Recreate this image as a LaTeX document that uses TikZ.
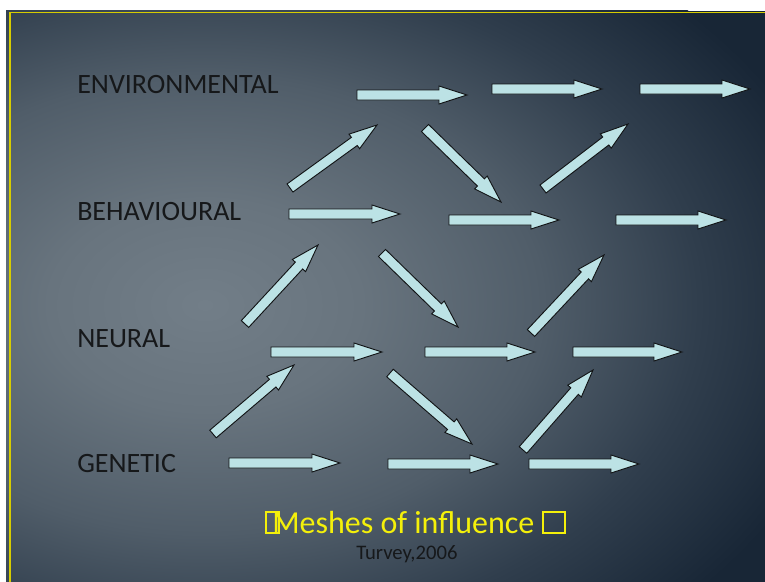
\documentclass[tikz,border=0pt]{standalone}
\usepackage{fontspec}
\setmainfont{Carlito}
\usetikzlibrary{calc}

\definecolor{bgIn}{RGB}{114,126,136}
\definecolor{bgInB}{RGB}{104,116,126}
\definecolor{bgMid}{RGB}{80,93,105}
\definecolor{bgDark}{RGB}{48,62,77}
\definecolor{bgOut}{RGB}{24,38,54}
\definecolor{arrowFill}{RGB}{188,226,229}
\definecolor{arrowLine}{RGB}{18,20,22}
\definecolor{labelInk}{RGB}{22,24,26}
\definecolor{frameYellow}{RGB}{214,204,0}
\definecolor{titleYellow}{RGB}{244,240,10}

% radial background: the 25bp ring sits on the shaded path's outline
\pgfdeclareradialshading{slidebg}{\pgfpoint{0bp}{0bp}}{%
  color(0bp)=(bgIn); color(6bp)=(bgInB); color(13bp)=(bgMid);
  color(19bp)=(bgDark); color(25bp)=(bgOut); color(50bp)=(bgOut)}

\tikzset{
  blockarrowstyle/.style={fill=arrowFill, draw=arrowLine, line width=0.7pt, line join=miter},
  levellabel/.style={anchor=base west, inner sep=0pt, text=labelInk, font=\fontsize{21pt}{24pt}\selectfont},
  titletext/.style={anchor=base west, inner sep=0pt, text=titleYellow, font=\fontsize{24pt}{28pt}\selectfont},
  tofubox/.style={draw=titleYellow, line width=1.1pt},
  citetext/.style={anchor=base west, inner sep=0pt, text=labelInk, font=\fontsize{15.5pt}{18pt}\selectfont},
}

% block arrow: shaft 10px wide, head 18px wide and 28px long
\newcommand\barrow[3]{%
  \coordinate (#1t) at (#2);
  \coordinate (#1h) at (#3);
  \coordinate (#1b) at ($(#1h)!21pt!(#1t)$);
  \draw[blockarrowstyle]
    ($(#1t)!3.75pt!90:(#1h)$) -- ($(#1b)!3.75pt!90:(#1h)$) --
    ($(#1b)!6.75pt!90:(#1h)$) -- (#1h) --
    ($(#1b)!6.75pt!-90:(#1h)$) -- ($(#1b)!3.75pt!-90:(#1h)$) --
    ($(#1t)!3.75pt!-90:(#1h)$) -- cycle;}

\begin{document}
\begin{tikzpicture}[x=0.75pt, y=-0.75pt]
  \useasboundingbox (0,0) rectangle (765,582);
  \fill[white] (0,0) rectangle (765,582);

  % slide background
  \fill[bgOut] (6,10.5) rectangle (765,582);
  \begin{scope}
    \clip (6,10.5) rectangle (765,582);
    \shade[shading=slidebg] (205,305) ellipse [x radius=650, y radius=440];
  \end{scope}
  % slide frame (top and left edges are the only ones in view)
  \draw[frameYellow, line width=1.3pt] (9.7,582) -- (9.7,12.6) -- (765,12.6);

  % level labels
  \node[levellabel] (env) at (77,93) {ENVIRONMENTAL};
  \node[levellabel] (beh) at (77,220) {BEHAVIOURAL};
  \node[levellabel] (neu) at (77,347) {NEURAL};
  \node[levellabel] (gen) at (77,472) {GENETIC};

  % environmental row
  \barrow{a1}{357,95}{467,95}
  \barrow{a2}{492,89}{602,89}
  \barrow{a3}{640,89}{750,89}
  % behavioural <-> environmental
  \barrow{d1}{290,188}{377,125}
  \barrow{d2}{425,128}{501,202}
  \barrow{d3}{543,189}{628,124}
  % behavioural row
  \barrow{b1}{289,214}{400,214}
  \barrow{b2}{449,220}{559,220}
  \barrow{b3}{616,220}{726,220}
  % neural <-> behavioural
  \barrow{d4}{245,324}{318,245}
  \barrow{d5}{382,253}{458,327}
  \barrow{d6}{531,333}{604,255}
  % neural row
  \barrow{n1}{271,352}{382,352}
  \barrow{n2}{425,352}{535,352}
  \barrow{n3}{573,352}{682,352}
  % genetic <-> neural
  \barrow{d7}{213,434}{294,365}
  \barrow{d8}{390,373}{472,444}
  \barrow{d9}{523,450}{593,370}
  % genetic row
  \barrow{g1}{229,463}{340,463}
  \barrow{g2}{388,464}{498,464}
  \barrow{g3}{529,464}{639,464}

  % title and citation
  \node[titletext] (title) at (272,533) {Meshes of influence};
  \draw[tofubox] (266,512) rectangle (279,533);
  \draw[tofubox] (543,512) rectangle (565,533);
  \node[citetext] (cite) at (356,559) {Turvey,2006};
\end{tikzpicture}
\end{document}
